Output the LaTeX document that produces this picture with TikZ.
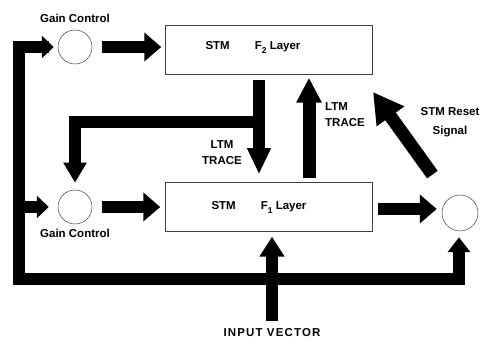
\documentclass[tikz,border=0pt]{standalone}
\usepackage{fontspec}
\setmainfont{Liberation Sans}
\usepackage{tikz}
\usetikzlibrary{arrows.meta, positioning, calc}

\newcommand{\lowsub}[1]{\raisebox{-4pt}{\fontsize{8.5}{8.5}\selectfont #1}}

\tikzset{
  layerbox/.style={draw=black!75, line width=0.5pt, minimum width=207pt,
                   minimum height=49pt, inner sep=0pt},
  gain/.style={circle, draw=black!75, line width=0.5pt, minimum size=34pt, inner sep=0pt},
  lbl/.style={font=\fontsize{11.5}{16}\selectfont\bfseries, align=center, inner sep=1pt},
  arr/.style 2 args={line width=12pt, line join=miter, -{Triangle[width=#1, length=#2]}}
}

\begin{document}
\begin{tikzpicture}[x=1pt, y=-1pt]
    \useasboundingbox (0,0) rectangle (480,350);

    % Gain control circles
    \node[gain] (gc2) at (75,47) {};
    \node[lbl, above=6pt of gc2] (gc2lbl) {Gain Control};
    \node[gain] (gc1) at (75,207) {};
    \node[lbl, below=4pt of gc1] (gc1lbl) {Gain Control};

    % STM layers
    \node[layerbox] (f2) at (269,50) {};
    \node[lbl] (f2txt) at ([xshift=-16pt,yshift=3pt]f2.center) {STM\hspace{25pt}F\lowsub{2} Layer};
    \node[layerbox] (f1) at (269,207) {};
    \node[lbl] (f1txt) at ([xshift=-10pt]f1.center) {STM\hspace{25pt}F\lowsub{1} Layer};

    % Reset circle
    \node[gain, minimum size=36pt] (reset) at (460,213) {};

    % Labels
    \node[lbl] (ltmdown) at (222,153) {LTM\\TRACE};
    \node[lbl, align=left, anchor=west] (ltmup) at (324,115) {LTM\\TRACE};
    \node[lbl, font=\fontsize{11.5}{19}\selectfont\bfseries] (resetlbl) at (450,122) {STM Reset\\Signal};
    \node[lbl] (invec) at (272,333) {\addfontfeature{LetterSpace=10}INPUT VECTOR};

    % Forward arrows
    \draw[arr={28pt}{17pt}, shorten <=10pt, shorten >=4pt] (gc2.east) -- (gc2.east -| f2.west);
    \draw[arr={28pt}{17pt}, shorten <=10pt, shorten >=5pt] (gc1.east) -- (gc1.east -| f1.west);
    \draw[arr={28pt}{17pt}, shorten <=5pt, shorten >=5pt]
      ([yshift=-2pt]f1.east) -- ([yshift=-2pt]f1.east -| reset.west);

    % LTM traces
    \draw[arr={22pt}{26pt}, shorten <=5pt, shorten >=8pt] ([xshift=-10pt]f2.south) -- ([xshift=-10pt]f1.north);
    \draw[arr={24pt}{25pt}, line width=13pt, shorten <=4pt, shorten >=3pt] ([xshift=40pt]f1.north) -- ([xshift=40pt]f2.south);
    \coordinate (split) at (265,122);
    \draw[arr={22pt}{20pt}, shorten >=7pt] (split) -| (gc1.north);

    % STM reset signal
    \coordinate (resettip) at (373,92);
    \draw[arr={32pt}{30pt}, line width=13pt, shorten <=29pt] (reset) -- (resettip);

    % Input vector and feedback loop
    \draw[arr={24pt}{20pt}, shorten <=7pt, shorten >=5pt] (invec.north) -- (invec.north |- f1.south);
    \coordinate (loopL) at (19,279);
    \coordinate (loopR) at (459,279);
    \draw[arr={22pt}{12pt}, line cap=rect, shorten >=4pt] (loopR) -- (loopL) |- (gc2.west);
    \draw[arr={22pt}{12pt}, shorten >=9pt] (loopL |- gc1.west) -- (gc1.west);
    \draw[arr={22pt}{15pt}, line cap=rect, shorten >=6pt] (loopR) -- (loopR |- reset.south);
  \end{tikzpicture}
\end{document}
